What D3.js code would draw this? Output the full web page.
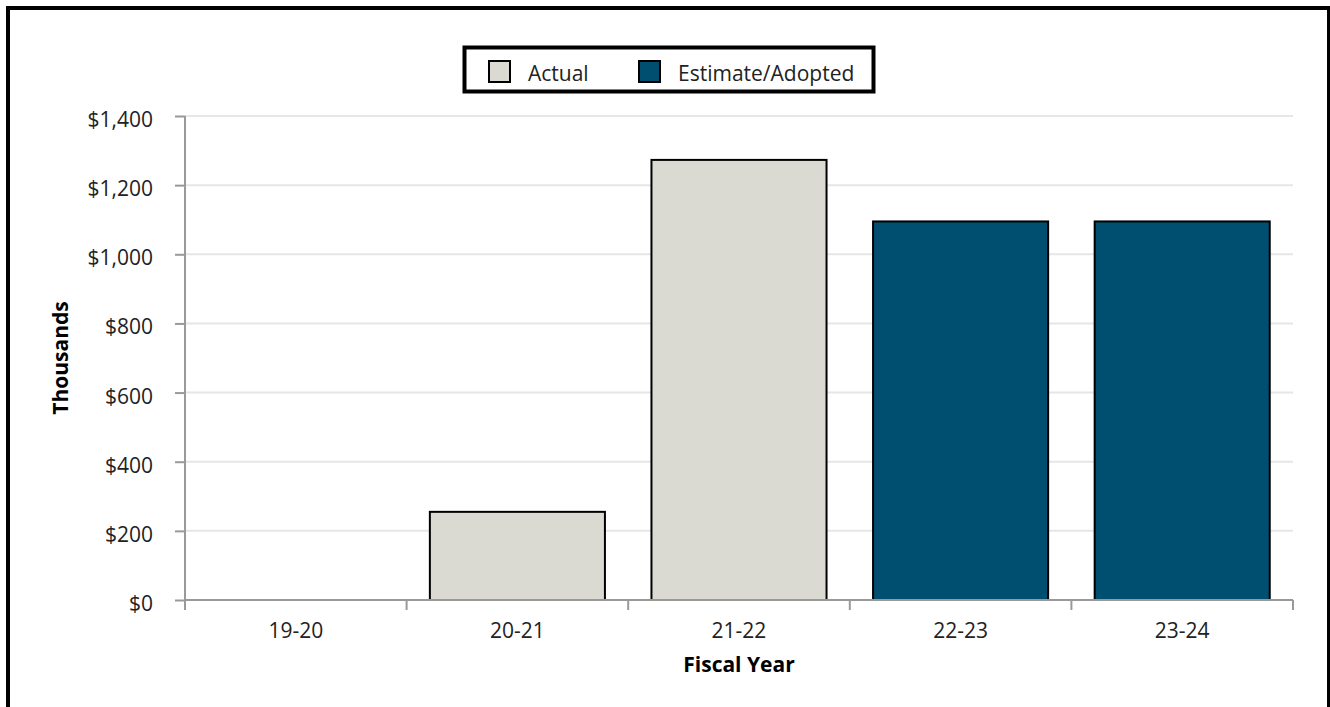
<!DOCTYPE html>
<html>
<head>
<meta charset="utf-8">
<script src="https://cdn.jsdelivr.net/npm/d3@7"></script>
<style>
  html, body { margin: 0; padding: 0; background: #fff; }
  svg { display: block; font-family: "Open Sans", sans-serif; }
</style>
</head>
<body>
<svg id="chart" width="1330" height="707"></svg>
<script>
const categories = ["19-20", "20-21", "21-22", "22-23", "23-24"];
const values = [0, 255, 1273, 1095, 1095];
const seriesType = ["Actual", "Actual", "Actual", "Estimate/Adopted", "Estimate/Adopted"];
const legendLabels = ["Actual", "Estimate/Adopted"];
const legendColors = ["#dadad3", "#004f71"];
const yTicks = [0, 200, 400, 600, 800, 1000, 1200, 1400];

const svg = d3.select("#chart");
const margin = { left: 185, right: 1293, top: 116, bottom: 600 };
const FS = 21;

// outer frame
svg.append("rect")
  .attr("x", 8).attr("y", 8).attr("width", 1321).attr("height", 760)
  .attr("fill", "none").attr("stroke", "#000").attr("stroke-width", 4);

const x = d3.scaleBand().domain(categories)
  .range([margin.left, margin.right])
  .paddingInner(0.21).paddingOuter(0.105);
const y = d3.scaleLinear().domain([0, 1400]).range([margin.bottom, margin.top]);
const color = d3.scaleOrdinal().domain(legendLabels).range(legendColors);

// gridlines
svg.append("g").selectAll("line").data(yTicks.filter(d => d > 0)).join("line")
  .attr("x1", margin.left).attr("x2", margin.right)
  .attr("y1", d => y(d)).attr("y2", d => y(d))
  .attr("stroke", "#e6e6e6").attr("stroke-width", 2);

// y axis
const yAxis = svg.append("g").attr("transform", `translate(${margin.left},0)`)
  .call(d3.axisLeft(y).tickValues(yTicks).tickSize(10).tickPadding(22)
    .tickFormat(d => "$" + d3.format(",")(d)));
yAxis.select(".domain").attr("stroke", "#999").attr("stroke-width", 2).attr("d", `M0,${margin.top}V${margin.bottom}`);
yAxis.selectAll(".tick line").attr("stroke", "#999").attr("stroke-width", 2);
yAxis.selectAll(".tick text").attr("font-size", FS).attr("font-family", "Open Sans")
  .attr("fill", "#222").attr("dy", "0.5em");

// bars
svg.append("g").selectAll("rect").data(categories).join("rect")
  .attr("x", d => x(d))
  .attr("width", x.bandwidth())
  .attr("y", (d, i) => y(values[i]))
  .attr("height", (d, i) => y(0) - y(values[i]))
  .attr("fill", (d, i) => color(seriesType[i]))
  .attr("stroke", "#000").attr("stroke-width", 2)
  .attr("display", (d, i) => values[i] > 0 ? null : "none");

// x axis
const xg = svg.append("g");
xg.append("line").attr("x1", margin.left).attr("x2", margin.right)
  .attr("y1", y(0)).attr("y2", y(0)).attr("stroke", "#999").attr("stroke-width", 2);
const bounds = d3.range(categories.length + 1).map(i => margin.left + i * x.step());
xg.selectAll("line.tk").data(bounds).join("line").attr("class", "tk")
  .attr("x1", d => d).attr("x2", d => d)
  .attr("y1", y(0)).attr("y2", y(0) + 10)
  .attr("stroke", "#999").attr("stroke-width", 2);
xg.selectAll("text").data(categories).join("text")
  .attr("x", d => x(d) + x.bandwidth() / 2)
  .attr("y", 638)
  .attr("text-anchor", "middle")
  .attr("font-size", FS).attr("fill", "#222")
  .text(d => d);

// axis titles
svg.append("text").attr("x", (margin.left + margin.right) / 2).attr("y", 672)
  .attr("text-anchor", "middle").attr("font-size", FS).attr("font-weight", "bold")
  .attr("fill", "#000").text("Fiscal Year");
svg.append("text")
  .attr("transform", `translate(68,${(margin.top + margin.bottom) / 2}) rotate(-90)`)
  .attr("text-anchor", "middle").attr("font-size", FS).attr("font-weight", "bold")
  .attr("fill", "#000").text("Thousands");

// legend
const lg = svg.append("g");
lg.append("rect").attr("x", 464.5).attr("y", 47.5).attr("width", 409).attr("height", 44)
  .attr("fill", "#fff").attr("stroke", "#000").attr("stroke-width", 4);
const legendX = [488, 638];
legendLabels.forEach((lab, i) => {
  lg.append("rect").attr("x", legendX[i] + 1).attr("y", 61).attr("width", 21).attr("height", 21)
    .attr("fill", color(lab)).attr("stroke", "#000").attr("stroke-width", 2);
  lg.append("text").attr("x", legendX[i] + 40).attr("y", 81)
    .attr("font-size", FS).attr("fill", "#222").text(lab);
});
</script>
</body>
</html>
